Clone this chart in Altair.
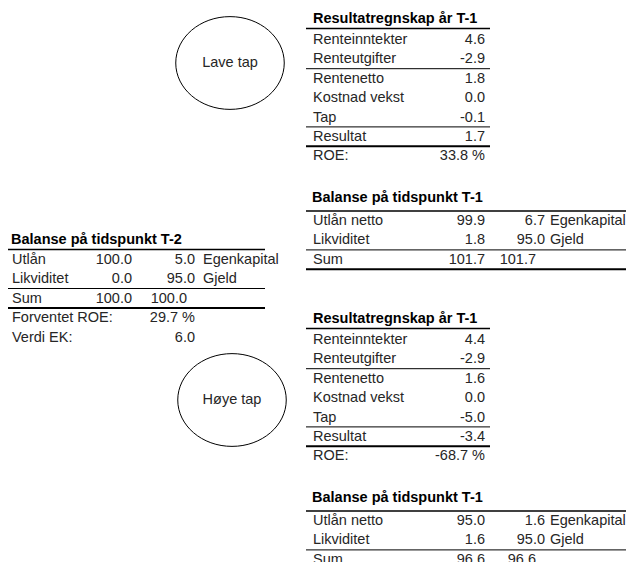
import altair as alt
import pandas as pd

# ---------------- data ----------------
result_title = "Resultatregnskap år T-1"
t1_title = "Balanse på tidspunkt T-1"
t2_title = "Balanse på tidspunkt T-2"

result_rows = ["Renteinntekter", "Renteutgifter", "Rentenetto", "Kostnad vekst", "Tap", "Resultat"]
low_result = [4.6, -2.9, 1.8, 0.0, -0.1, 1.7]
high_result = [4.4, -2.9, 1.6, 0.0, -5.0, -3.4]
low_roe = 33.8
high_roe = -68.7

t2_asset_rows = ["Utlån", "Likviditet"]
t1_asset_rows = ["Utlån netto", "Likviditet"]
liab_rows = ["Egenkapital", "Gjeld"]

t2_assets = [100.0, 0.0]
t2_liabs = [5.0, 95.0]
t2_expected_roe = 29.7
t2_equity_value = 6.0

low_t1_assets = [99.9, 1.8]
low_t1_liabs = [6.7, 95.0]
high_t1_assets = [95.0, 1.6]
high_t1_liabs = [1.6, 95.0]

scenario_labels = ["Lave tap", "Høye tap"]

# ---------------- layout ----------------
W, H = 618, 554          # drawing area (page coords start at 8,8)
STEP = 19.4
FS = 14.5

left_txt, right_txt, bold_txt, center_txt, rules = [], [], [], [], []


def fmt(v):
    return f"{v:.1f}"


def rule(x1, x2, y, w=1.0):
    rules.append({"x": x1, "x2": x2, "y": y, "w": w})


def result_table(y0, vals, roe):
    xl, xr, r1, r2 = 313, 485, 306, 490
    bold_txt.append({"x": xl, "y": y0, "t": result_title})
    rule(r1, r2, y0 + 9.5, 1.5)
    first = y0 + 21
    for i, (lab, v) in enumerate(zip(result_rows, vals)):
        yy = first + i * STEP
        left_txt.append({"x": xl, "y": yy, "t": lab})
        right_txt.append({"x": xr, "y": yy, "t": fmt(v)})
    yy = first + len(result_rows) * STEP
    left_txt.append({"x": xl, "y": yy, "t": "ROE:"})
    right_txt.append({"x": xr, "y": yy, "t": f"{roe:.1f} %"})
    rule(r1, r2, first + 1 * STEP + 9.3)
    rule(r1, r2, first + 4 * STEP + 9.3)
    rule(r1, r2, first + 5 * STEP + 9.3, 2.0)


def balance_table(y0, title, xl, xa, xb, xs, xlab, r1, r2, rows, assets, liabs, step, gap):
    bold_txt.append({"x": xl - 1, "y": y0, "t": title})
    rule(r1, r2, y0 + gap - 10, 1.5)
    first = y0 + gap
    for i in range(2):
        yy = first + i * step
        left_txt.append({"x": xl, "y": yy, "t": rows[i]})
        right_txt.append({"x": xa, "y": yy, "t": fmt(assets[i])})
        right_txt.append({"x": xb, "y": yy, "t": fmt(liabs[i])})
        left_txt.append({"x": xlab, "y": yy, "t": liab_rows[i]})
    yy = first + 2 * step
    left_txt.append({"x": xl, "y": yy, "t": "Sum"})
    right_txt.append({"x": xa, "y": yy, "t": fmt(sum(assets))})
    right_txt.append({"x": xs, "y": yy, "t": fmt(sum(liabs))})
    rule(r1, r2, first + 1 * step + 9.5)
    rule(r1, r2, first + 2 * step + 9.5, 2.0)
    return first


# upper scenario (low losses)
result_table(19, low_result, low_roe)
balance_table(198, t1_title, 313, 485, 545, 536, 550, 306, 630,
              t1_asset_rows, low_t1_assets, low_t1_liabs, STEP, 23)
# lower scenario (high losses)
result_table(319, high_result, high_roe)
balance_table(498, t1_title, 313, 485, 545, 536, 550, 306, 630,
              t1_asset_rows, high_t1_assets, high_t1_liabs, STEP, 23)
# starting balance T-2
f2 = balance_table(240, t2_title, 12, 132, 195, 187, 203, 7, 265,
                   t2_asset_rows, t2_assets, t2_liabs, 19.5, 19.5)
left_txt.append({"x": 12, "y": f2 + 3 * 19.5, "t": "Forventet ROE:"})
right_txt.append({"x": 195, "y": f2 + 3 * 19.5, "t": f"{t2_expected_roe:.1f} %"})
left_txt.append({"x": 12, "y": f2 + 4 * 19.5, "t": "Verdi EK:"})
right_txt.append({"x": 195, "y": f2 + 4 * 19.5, "t": fmt(t2_equity_value)})

# scenario ellipses
ell_df = pd.DataFrame({"x": [230, 232], "y": [63, 400], "t": scenario_labels})

# ---------------- chart ----------------
xs = alt.Scale(domain=[8, 8 + W], nice=False, zero=False)
ys = alt.Scale(domain=[8, 8 + H], reverse=True, nice=False, zero=False)
X = alt.X("x:Q", scale=xs, axis=None)
Y = alt.Y("y:Q", scale=ys, axis=None)

base_txt = dict(font="Liberation Sans", fontSize=FS, baseline="middle")

l_layer = alt.Chart(pd.DataFrame(left_txt)).mark_text(align="left", color="#262626", **base_txt).encode(x=X, y=Y, text="t:N")
r_layer = alt.Chart(pd.DataFrame(right_txt)).mark_text(align="right", color="#262626", **base_txt).encode(x=X, y=Y, text="t:N")
b_layer = alt.Chart(pd.DataFrame(bold_txt)).mark_text(align="left", color="#000000", fontWeight="bold", **base_txt).encode(x=X, y=Y, text="t:N")

rule_layer = alt.Chart(pd.DataFrame(rules)).mark_rule(color="#000000", clip=False).encode(
    x=X, x2="x2:Q", y=Y, strokeWidth=alt.StrokeWidth("w:Q", scale=None)
)

r_ell = 0.855
k = 0.552
ry = r_ell
kr = round(k * r_ell, 3)
ellipse_path = (
    f"M -1 0 C -1 {-kr} {-k} {-ry} 0 {-ry} "
    f"C {k} {-ry} 1 {-kr} 1 0 "
    f"C 1 {kr} {k} {ry} 0 {ry} "
    f"C {-k} {ry} -1 {kr} -1 0 Z"
)
ell_layer = alt.Chart(ell_df).mark_point(
    shape=ellipse_path, filled=False, stroke="#000000", strokeWidth=1, size=108.5 ** 2, opacity=1
).encode(x=X, y=Y)
ell_txt = alt.Chart(ell_df).mark_text(align="center", color="#262626", **base_txt).encode(x=X, y=Y, text="t:N")

chart = alt.layer(rule_layer, ell_layer, ell_txt, l_layer, r_layer, b_layer).properties(
    width=W, height=H, padding=0, autosize=alt.AutoSizeParams(type="none")
).configure_view(stroke=None)

chart.save("out.html", embed_options={"renderer": "svg", "actions": False})
